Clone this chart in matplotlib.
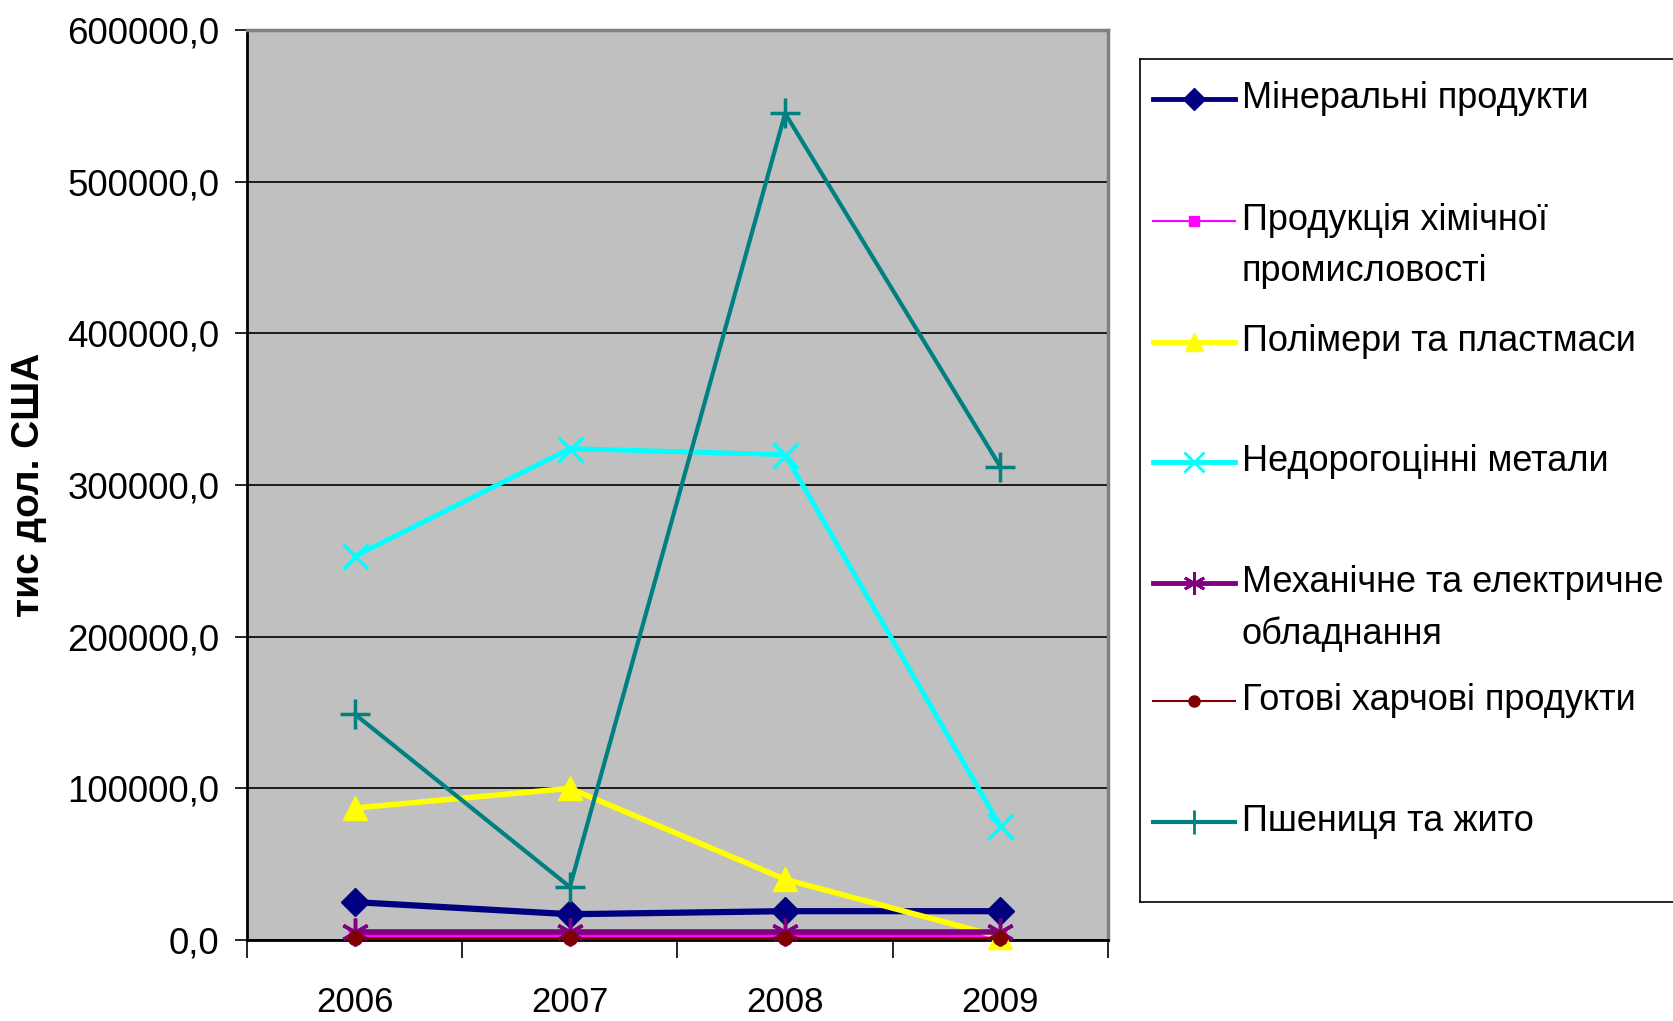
import matplotlib.pyplot as plt
from matplotlib.ticker import FuncFormatter, MultipleLocator, FixedLocator

plt.rcParams['font.family'] = ['Liberation Sans', 'DejaVu Sans']

years = ['2006', '2007', '2008', '2009']
mineral = [25000, 17000, 19000, 19000]
chemical = [3000, 3000, 3000, 3000]
polymers = [87000, 100000, 40000, 2000]
metals = [253000, 324000, 320000, 75000]
mechanical = [5000, 5000, 5000, 5000]
food = [1500, 1500, 1500, 1500]
wheat = [149000, 35000, 545000, 312000]

labels = ['Мінеральні продукти', 'Продукція хімічної\nпромисловості',
          'Полімери та пластмаси', 'Недорогоцінні метали',
          'Механічне та електричне\nобладнання', 'Готові харчові продукти',
          'Пшениця та жито']

# color, marker, markersize, linewidth
styles = [
    ('#000080', 'D', 14, 4.5),
    ('#FF00FF', 's', 9, 2.0),
    ('#FFFF00', '^', 17, 4.0),
    ('#00FFFF', 'x', 18, 3.5),
    ('#800080', (6, 2, 0), 20, 4.0),
    ('#800000', 'o', 10, 2.0),
    ('#008080', '+', 22, 3.0),
]
series = [mineral, chemical, polymers, metals, mechanical, food, wheat]

fig = plt.figure(figsize=(16.74, 10.21), dpi=100)
ax = fig.add_axes([247/1674, 1-940/1021, 861/1674, 910/1021])
ax.set_facecolor('#C0C0C0')

x = list(range(len(years)))
for vals, (c, m, ms, lw) in zip(series, styles):
    ax.plot(x, vals, color=c, marker=m, markersize=ms, linewidth=lw,
            markeredgewidth=2.5 if m in ('x', '+', (6, 2, 0)) else 1,
            markeredgecolor=c, markerfacecolor=c, clip_on=False, zorder=3)

ax.set_xlim(-0.5, 3.5)
ax.set_ylim(0, 600000)
ax.yaxis.set_major_locator(MultipleLocator(100000))
ax.yaxis.set_major_formatter(FuncFormatter(lambda v, p: f'{v:.1f}'.replace('.', ',')))
ax.grid(axis='y', color='black', linewidth=1.2, zorder=1)
ax.set_axisbelow(True)

ax.xaxis.set_major_locator(FixedLocator(x))
ax.set_xticklabels(years)
ax.xaxis.set_minor_locator(FixedLocator([-0.5, 0.5, 1.5, 2.5, 3.5]))
ax.tick_params(axis='x', which='major', length=0, pad=33, labelsize=25)
ax.tick_params(axis='x', which='minor', length=13, width=1.2, direction='out')
ax.tick_params(axis='y', length=9, width=1.2, pad=11, labelsize=26.5)

for s in ['top', 'right']:
    ax.spines[s].set_color('#808080')
    ax.spines[s].set_linewidth(2.5)
ax.spines['left'].set_color('black')
ax.spines['left'].set_linewidth(2)
ax.spines['bottom'].set_color('black')
ax.spines['bottom'].set_linewidth(2)

ax.set_ylabel('тис дол. США', fontsize=28, fontweight='bold')
ax.yaxis.set_label_coords(-0.232, 0.5)

# legend panel drawn in pixel-like coordinates
lax = fig.add_axes([1140/1674, 1-902/1021, 560/1674, 843/1021])
lax.set_xlim(1140, 1700)
lax.set_ylim(902, 59)
lax.set_xticks([])
lax.set_yticks([])
for s in lax.spines.values():
    s.set_linewidth(1.2)
    s.set_color('black')

entry_y = [99, 221, 342, 462, 583, 701, 822]
for lab, yy, (c, m, ms, lw) in zip(labels, entry_y, styles):
    lax.plot([1153, 1235], [yy, yy], color=c, linewidth=min(lw, 3.5) if lw > 2 else 1.5)
    lax.plot([1194], [yy], color=c, marker=m, markersize=ms * 0.8,
             markeredgewidth=2 if m in ('x', '+', (6, 2, 0)) else 1)
    for i, line in enumerate(lab.split('\n')):
        lax.text(1242, yy + i * 51, line, fontsize=26, va='center', ha='left')

fig.savefig('out.png', dpi=100)
